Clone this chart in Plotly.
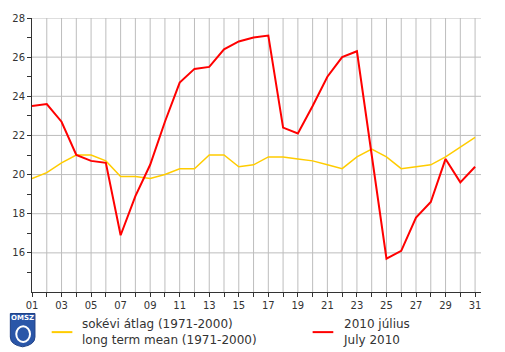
import plotly.graph_objects as go

days = list(range(1, 32))
tick_text = [f"{d:02d}" if d % 2 == 1 else "" for d in days]
y_labels = [16, 18, 20, 22, 24, 26, 28]
y_minor = list(range(15, 28, 2))

mean_1971_2000 = [19.8, 20.1, 20.6, 21.0, 21.0, 20.7, 19.9, 19.9, 19.8, 20.0,
                  20.3, 20.3, 21.0, 21.0, 20.4, 20.5, 20.9, 20.9, 20.8, 20.7,
                  20.5, 20.3, 20.9, 21.3, 20.9, 20.3, 20.4, 20.5, 20.9, 21.4, 21.9]
july_2010 = [23.5, 23.6, 22.7, 21.0, 20.7, 20.6, 16.9, 18.9, 20.5, 22.7,
             24.7, 25.4, 25.5, 26.4, 26.8, 27.0, 27.1, 22.4, 22.1, 23.5,
             25.0, 26.0, 26.3, 21.1, 15.7, 16.1, 17.8, 18.6, 20.8, 19.6, 20.4]

legend_mean = "sokévi átlag (1971-2000)<br>long term mean (1971-2000)"
legend_july = "2010 július<br>July 2010"

W, H = 505, 352
ML, MR, MT, MB = 25, 24, 12, 60
PW, PH = W - ML - MR, H - MT - MB
Y_RANGE = [14, 28]
X_RANGE = [1, 31.4]
GRID = "#BDBDBD"

def px(x):
    return (x - ML) / PW

def py(y):
    return 1 - (y - MT) / PH

fig = go.Figure()

# grid lines (drawn beneath the data)
for d in days[1:]:
    fig.add_shape(type="line", xref="x", yref="y", x0=d, x1=d, y0=Y_RANGE[0], y1=Y_RANGE[1],
                  line=dict(color=GRID, width=1), layer="below")
for v in y_labels:
    fig.add_shape(type="line", xref="x", yref="y", x0=X_RANGE[0], x1=X_RANGE[1], y0=v, y1=v,
                  line=dict(color=GRID, width=1), layer="below")

fig.add_trace(go.Scatter(x=days, y=mean_1971_2000, mode="lines",
                         line=dict(color="#FFCC00", width=1.5), showlegend=False))
fig.add_trace(go.Scatter(x=days, y=july_2010, mode="lines",
                         line=dict(color="#FF0000", width=2), showlegend=False))

font = "DejaVu Sans, Verdana, sans-serif"

fig.update_layout(
    width=W, height=H,
    margin=dict(l=ML, r=MR, t=MT, b=MB),
    paper_bgcolor="white", plot_bgcolor="white",
    font=dict(family=font, size=10, color="#333333"),
    xaxis=dict(range=X_RANGE, tickmode="array", tickvals=days, ticktext=tick_text,
               showgrid=False, zeroline=False, showline=True, linecolor="#333333",
               linewidth=1, ticks="outside", ticklen=4, tickcolor="#333333",
               fixedrange=True),
    yaxis=dict(range=Y_RANGE, tickmode="array", tickvals=y_labels,
               showgrid=False, zeroline=False,
               showline=True, linecolor="#333333", linewidth=1,
               ticks="outside", ticklen=4, tickcolor="#333333", fixedrange=True,
               minor=dict(tickmode="array", tickvals=y_minor,
                          ticks="outside", ticklen=4, tickcolor="#333333", showgrid=False)),
)

# legend samples
fig.add_shape(type="line", xref="paper", yref="paper", x0=px(45), x1=px(66),
              y0=py(333), y1=py(333), line=dict(color="#FFCC00", width=2))
fig.add_shape(type="line", xref="paper", yref="paper", x0=px(310), x1=px(331),
              y0=py(333), y1=py(333), line=dict(color="#FF0000", width=2))
fig.add_annotation(xref="paper", yref="paper", x=px(74), y=py(333), text=legend_mean,
                   showarrow=False, xanchor="left", yanchor="middle", align="left",
                   font=dict(family=font, size=12, color="#333333"))
fig.add_annotation(xref="paper", yref="paper", x=px(339), y=py(333), text=legend_july,
                   showarrow=False, xanchor="left", yanchor="middle", align="left",
                   font=dict(family=font, size=12, color="#333333"))

# logo
fig.add_shape(type="path", xref="paper", yref="paper",
              path=(f"M {px(3)},{py(314)} L {px(28)},{py(314)} L {px(28)},{py(338)} "
                    f"Q {px(28)},{py(346)} {px(15.5)},{py(348)} "
                    f"Q {px(3)},{py(346)} {px(3)},{py(338)} Z"),
              fillcolor="#2A56A8", line=dict(color="#1E3F85", width=1))
fig.add_shape(type="circle", xref="paper", yref="paper",
              x0=px(9), x1=px(23), y0=py(327), y1=py(343),
              fillcolor="rgba(0,0,0,0)", line=dict(color="white", width=2))
fig.add_annotation(xref="paper", yref="paper", x=px(15.5), y=py(319), text="<b>OMSZ</b>",
                   showarrow=False, xanchor="center", yanchor="middle",
                   font=dict(family=font, size=7, color="white"))

fig.write_html("out.html")
